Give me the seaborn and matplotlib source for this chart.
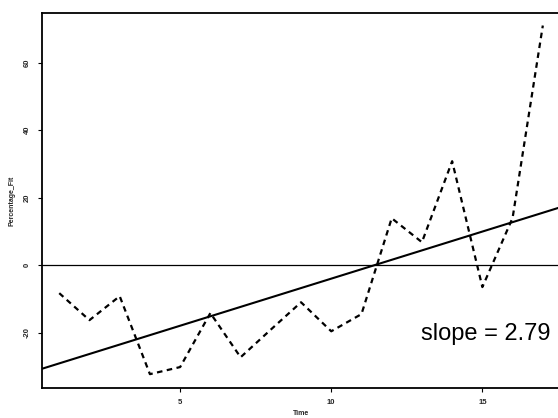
import matplotlib
matplotlib.use("Agg")
import matplotlib.pyplot as plt
import seaborn as sns
import pandas as pd

time = list(range(1, 18))
percentage_fit = [-8.3, -16.3, -9.2, -32.3, -30.2, -14.2, -27.3, -19.1, -11.0,
                  -19.6, -14.5, 13.9, 6.8, 30.8, -6.5, 14.0, 71.0]
slope = 2.79
intercept = -31.9
x_ticks = [5, 10, 15]
y_ticks = [-20, 0, 20, 40, 60]

df = pd.DataFrame({"Time": time, "Percentage_Fit": percentage_fit})

sns.set_theme(style="white")
plt.rcParams["font.family"] = ["Liberation Sans", "DejaVu Sans"]

fig = plt.figure(figsize=(5.58, 4.18), dpi=100)
ax = fig.add_axes([0.0753, 0.0718, 0.93, 0.897])

sns.lineplot(data=df, x="Time", y="Percentage_Fit", ax=ax, color="black",
             linewidth=1.6, linestyle=(0, (2.5, 2)))
ax.axhline(0, color="black", linewidth=0.9)
ax.axline((0, intercept), slope=slope, color="black", linewidth=1.5)

ax.set_xlim(0.43, 17.6)
ax.set_ylim(-36.4, 74.7)
ax.set_xticks(x_ticks)
ax.set_yticks(y_ticks)
ax.set_xticklabels([str(t) for t in x_ticks], fontsize=5.5, fontweight="bold")
ax.set_yticklabels([str(t) for t in y_ticks], fontsize=5.5, fontweight="bold",
                   rotation=90, va="center")
ax.tick_params(axis="both", direction="out", length=3, width=0.8, color="black",
               left=True, bottom=True, pad=5)
ax.set_xlabel("Time", fontsize=5, fontweight="bold", labelpad=3)
ax.set_ylabel("Percentage_Fit", fontsize=5, fontweight="bold", labelpad=6)

for s in ["left", "bottom", "top"]:
    ax.spines[s].set_color("black")
    ax.spines[s].set_linewidth(1.3)
ax.spines["right"].set_visible(False)

ax.text(17.25, -20.5, f"slope = {slope}", fontsize=17, ha="right", va="center",
        color="black")

fig.savefig("out.png", dpi=100)
